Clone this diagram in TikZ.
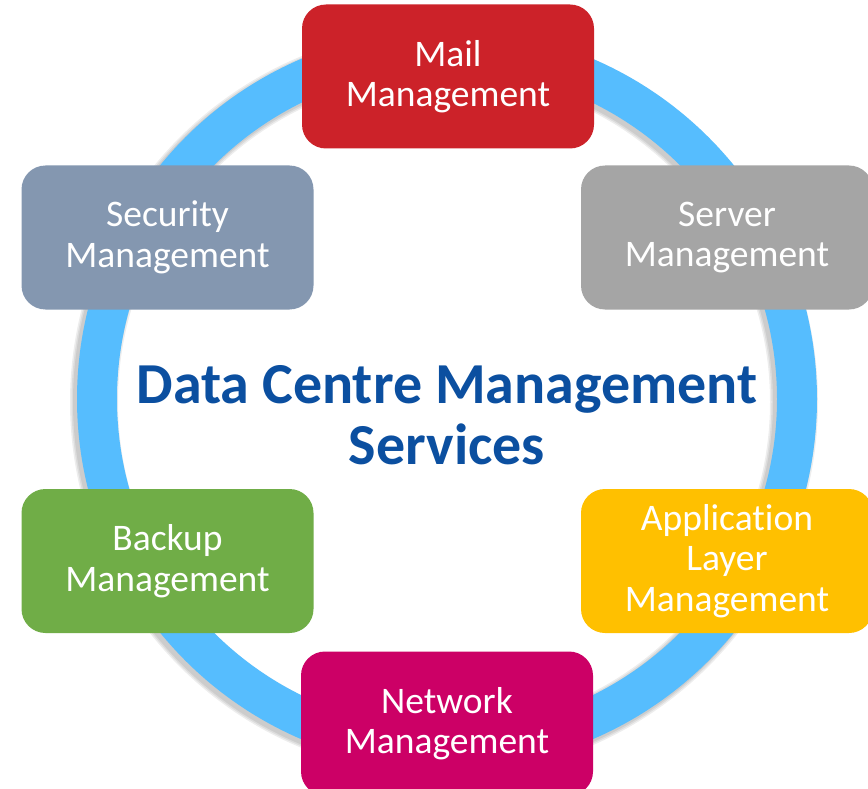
\documentclass[tikz,border=0pt]{standalone}
\usepackage{fontspec}
\setmainfont{Carlito}[Ligatures={NoCommon,NoContextual}]
\definecolor{ringblue}{HTML}{56BDFE}
\definecolor{mailred}{HTML}{CC2229}
\definecolor{secgray}{HTML}{8497B0}
\definecolor{servgray}{HTML}{A5A5A5}
\definecolor{backgreen}{HTML}{70AD47}
\definecolor{appyellow}{HTML}{FFC000}
\definecolor{netmag}{HTML}{CC0066}
\definecolor{titleblue}{HTML}{0B4FA0}
\tikzset{
  svcbox/.style={rectangle, rounded corners=24, minimum width=292, minimum height=144,
    inner sep=0, align=center, text=white, font=\fontsize{37.5}{40.5}\selectfont},
  ringshadow/.style={draw=black, opacity=0.07},
}
\begin{document}
\begin{tikzpicture}[x=1pt,y=-1pt]
\useasboundingbox (0,0) rectangle (868,789);
\fill[white] (0,0) rectangle (868,789);
\coordinate (c) at (447,399);
% ring shadow
\foreach \w in {48,45,42} {
  \draw[ringshadow, line width=\w] ([shift={(-3,3)}]c) circle (350);
}
\draw[ringblue, line width=40] (c) circle (350);
% boxes
\node[svcbox, fill=mailred] (mail) at (448,76.5) {Mail\\Management};
\node[svcbox, fill=secgray] (security) at (167.5,237.5) {Security\\Management};
\node[svcbox, fill=servgray] (server) at (727,237.5) {Server\\Management};
\node[svcbox, fill=backgreen] (backup) at (167.5,561) {Backup\\Management};
\node[svcbox, fill=appyellow] (app) at (727,561) {Application\\Layer\\Management};
\node[svcbox, fill=netmag] (network) at (447,723.5) {Network\\Management};
% title
\node[text=titleblue, align=center, font=\fontsize{58}{61}\selectfont\bfseries] (title) at (447,415) {Data Centre Management\\Services};
\end{tikzpicture}
\end{document}
